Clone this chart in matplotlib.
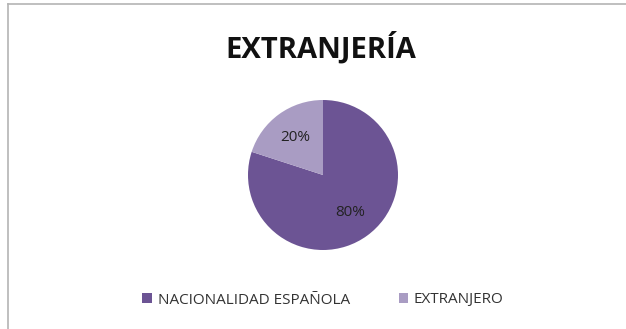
import matplotlib.pyplot as plt
from matplotlib.patches import Patch

labels = ['NACIONALIDAD ESPAÑOLA', 'EXTRANJERO']
values = [80, 20]
colors = ['#6c5494', '#a99cc3']

plt.rcParams['font.family'] = ['Open Sans', 'DejaVu Sans']

fig = plt.figure(figsize=(6.26, 3.29), dpi=100)

# chart frame: only the top and left edges show in the crop
fig.add_artist(plt.Line2D([8 / 626, 8 / 626], [0, 1 - 4 / 329], color='#b4b4b4', lw=1.2))
fig.add_artist(plt.Line2D([8 / 626, 1], [1 - 4 / 329, 1 - 4 / 329], color='#b4b4b4', lw=1.2))

fig.text(321 / 626, 1 - 48 / 329, 'EXTRANJERÍA', ha='center', va='center',
         fontsize=21, fontweight='bold', color='#111111')

# pie centred at (323, 175) px with radius 75 px
r = 75
ax = fig.add_axes([(323 - r) / 626, 1 - (175 + r) / 329, 2 * r / 626, 2 * r / 329])
ax.pie(values, colors=colors, startangle=90, counterclock=False,
       autopct='%d%%', pctdistance=0.62,
       textprops={'fontsize': 11, 'color': '#222222'})
ax.set_xlim(-1, 1)
ax.set_ylim(-1, 1)
ax.set_aspect('equal')

handles = [Patch(facecolor=c, edgecolor='none') for c in colors]
fig.legend(handles, labels, loc='center', bbox_to_anchor=(323 / 626, 1 - 300 / 329),
           ncol=2, frameon=False, fontsize=11, handlelength=0.6, handleheight=0.6,
           handletextpad=0.4, columnspacing=3.2, labelcolor='#333333')

fig.savefig('out.png', dpi=100, facecolor='white')
